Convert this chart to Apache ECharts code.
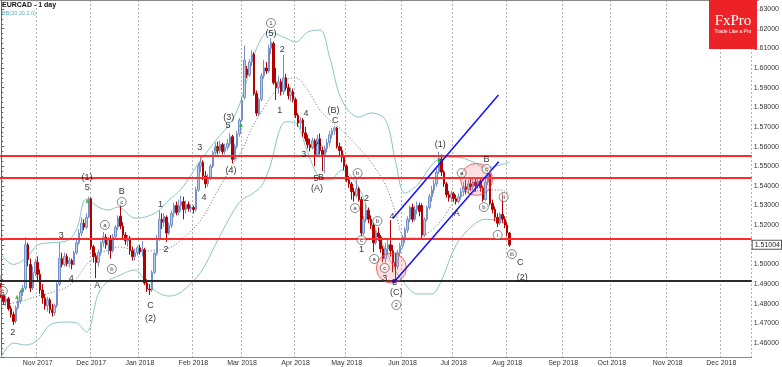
<!DOCTYPE html>
<html><head><meta charset="utf-8">
<script src="https://cdn.jsdelivr.net/npm/echarts/dist/echarts.min.js"></script>
<style>html,body{margin:0;padding:0;background:#fff;}#c{width:782px;height:367px;}</style>
</head><body><div id="c"></div>
<script>
// ---------------- DATA ----------------
const startDate = [2017, 9, 11];            // first bar: 11 Oct 2017
const holidays = ['2017-12-25', '2018-01-01'];
const slotCount = 309;                        // bars incl. empty future area
const monthNames = ['Jan','Feb','Mar','Apr','May','Jun','Jul','Aug','Sep','Oct','Nov','Dec'];

// daily candles [open, close, low, high]
const ohlc = [
[1.4880,1.4845,1.4830,1.4905],[1.4845,1.4810,1.4795,1.4860],[1.4810,1.4825,1.4790,1.4840],[1.4825,1.4775,1.4765,1.4835],
[1.4775,1.4745,1.4730,1.4790],[1.4745,1.4710,1.4692,1.4760],[1.4712,1.4780,1.4700,1.4790],[1.4780,1.4815,1.4770,1.4830],
[1.4815,1.4860,1.4800,1.4870],[1.4860,1.4880,1.4840,1.4895],[1.4880,1.5100,1.4870,1.5140],[1.5100,1.5025,1.4990,1.5110],
[1.5000,1.4880,1.4860,1.5030],[1.4880,1.4960,1.4870,1.4990],[1.4960,1.5010,1.4940,1.5030],[1.5010,1.4950,1.4920,1.5040],
[1.4950,1.4870,1.4850,1.4975],[1.4870,1.4830,1.4800,1.4900],[1.4830,1.4790,1.4770,1.4850],[1.4790,1.4820,1.4760,1.4835],
[1.4820,1.4770,1.4750,1.4830],[1.4770,1.4755,1.4735,1.4800],[1.4755,1.4790,1.4740,1.4800],[1.4790,1.4900,1.4780,1.4910],
[1.4900,1.5030,1.4890,1.5110],[1.5030,1.5000,1.4985,1.5060],[1.5000,1.5040,1.4990,1.5060],[1.5040,1.5005,1.4990,1.5055],
[1.5005,1.5020,1.4985,1.5035],[1.5020,1.5000,1.4975,1.5030],[1.5000,1.5060,1.4995,1.5070],[1.5060,1.5110,1.5050,1.5125],
[1.5110,1.5160,1.5100,1.5180],[1.5160,1.5210,1.5145,1.5240],[1.5210,1.5190,1.5175,1.5230],[1.5190,1.5240,1.5180,1.5260],
[1.5240,1.5335,1.5235,1.5345],[1.5335,1.5090,1.5075,1.5340],[1.5090,1.5040,1.5010,1.5100],[1.5040,1.5010,1.4930,1.5060],
[1.5010,1.5060,1.4990,1.5075],[1.5060,1.5110,1.5045,1.5120],[1.5110,1.5140,1.5090,1.5165],[1.5140,1.5100,1.5080,1.5155],
[1.5100,1.5125,1.5050,1.5140],[1.5125,1.5070,1.5030,1.5150],[1.5070,1.5140,1.5060,1.5155],[1.5140,1.5190,1.5125,1.5200],
[1.5190,1.5235,1.5175,1.5250],[1.5245,1.5195,1.5180,1.5300],[1.5195,1.5150,1.5130,1.5215],[1.5150,1.5120,1.5100,1.5165],
[1.5120,1.5135,1.5090,1.5150],[1.5135,1.5070,1.5050,1.5145],[1.5070,1.5040,1.5020,1.5090],[1.5040,1.5060,1.5020,1.5080],
[1.5060,1.5085,1.5045,1.5095],[1.5085,1.5065,1.5050,1.5100],[1.5065,1.5075,1.5040,1.5120],[1.5075,1.4905,1.4895,1.5085],
[1.4905,1.4875,1.4860,1.4925],[1.4875,1.4870,1.4845,1.4900],[1.4870,1.4960,1.4860,1.4970],[1.4960,1.5055,1.4950,1.5065],
[1.5055,1.5130,1.5045,1.5150],[1.5130,1.5230,1.5120,1.5275],[1.5230,1.5215,1.5180,1.5260],[1.5215,1.5245,1.5190,1.5260],
[1.5240,1.5160,1.5115,1.5250],[1.5160,1.5200,1.5150,1.5215],[1.5200,1.5260,1.5185,1.5275],[1.5260,1.5300,1.5240,1.5315],
[1.5300,1.5265,1.5250,1.5320],[1.5265,1.5300,1.5250,1.5330],[1.5300,1.5320,1.5270,1.5350],[1.5320,1.5280,1.5230,1.5345],
[1.5280,1.5305,1.5260,1.5325],[1.5305,1.5285,1.5270,1.5320],[1.5285,1.5290,1.5265,1.5305],[1.5290,1.5280,1.5260,1.5300],
[1.5280,1.5380,1.5270,1.5395],[1.5380,1.5500,1.5370,1.5515],[1.5500,1.5520,1.5470,1.5557],[1.5520,1.5450,1.5430,1.5530],
[1.5450,1.5410,1.5388,1.5475],[1.5410,1.5445,1.5395,1.5460],[1.5445,1.5500,1.5430,1.5510],[1.5500,1.5570,1.5490,1.5580],
[1.5570,1.5600,1.5550,1.5620],[1.5600,1.5580,1.5560,1.5625],[1.5580,1.5610,1.5565,1.5630],[1.5610,1.5575,1.5560,1.5620],
[1.5575,1.5595,1.5560,1.5615],[1.5595,1.5615,1.5580,1.5640],[1.5615,1.5650,1.5600,1.5667],[1.5650,1.5535,1.5515,1.5660],
[1.5535,1.5600,1.5530,1.5615],[1.5600,1.5665,1.5590,1.5680],[1.5665,1.5735,1.5650,1.5745],[1.5735,1.5835,1.5725,1.5850],
[1.5850,1.6040,1.5840,1.6115],[1.5995,1.5965,1.5950,1.6010],[1.5965,1.6030,1.5955,1.6045],[1.6030,1.6070,1.6010,1.6090],
[1.6070,1.5870,1.5860,1.6080],[1.5870,1.5770,1.5755,1.5885],[1.5765,1.5840,1.5755,1.5850],[1.5840,1.5960,1.5830,1.5975],
[1.5960,1.6000,1.5945,1.6040],[1.6000,1.5985,1.5970,1.6030],[1.5985,1.6100,1.5975,1.6120],[1.6100,1.6130,1.6070,1.6151],
[1.6125,1.5925,1.5915,1.6135],[1.5925,1.5900,1.5837,1.6000],[1.5900,1.5930,1.5870,1.5960],[1.5930,1.5880,1.5860,1.5945],
[1.5880,1.5950,1.5865,1.6066],[1.5950,1.5900,1.5885,1.5970],[1.5900,1.5860,1.5840,1.5920],[1.5860,1.5880,1.5830,1.5900],
[1.5880,1.5840,1.5825,1.5895],[1.5840,1.5760,1.5745,1.5850],[1.5760,1.5720,1.5700,1.5770],[1.5720,1.5735,1.5690,1.5750],
[1.5735,1.5670,1.5650,1.5745],[1.5670,1.5640,1.5625,1.5700],[1.5640,1.5610,1.5590,1.5660],[1.5610,1.5595,1.5575,1.5640],
[1.5595,1.5630,1.5585,1.5645],[1.5630,1.5560,1.5500,1.5640],[1.5560,1.5640,1.5550,1.5660],[1.5640,1.5580,1.5560,1.5667],
[1.5580,1.5560,1.5475,1.5600],[1.5560,1.5590,1.5464,1.5605],[1.5590,1.5620,1.5570,1.5640],[1.5620,1.5660,1.5600,1.5680],
[1.5660,1.5680,1.5640,1.5695],[1.5680,1.5695,1.5660,1.5705],[1.5695,1.5600,1.5590,1.5700],[1.5600,1.5580,1.5555,1.5620],
[1.5580,1.5545,1.5520,1.5600],[1.5545,1.5500,1.5480,1.5560],[1.5500,1.5430,1.5420,1.5510],[1.5430,1.5410,1.5390,1.5450],
[1.5410,1.5370,1.5330,1.5420],[1.5370,1.5350,1.5320,1.5390],[1.5350,1.5385,1.5340,1.5440],[1.5385,1.5330,1.5320,1.5395],
[1.5330,1.5160,1.5141,1.5345],[1.5160,1.5230,1.5150,1.5245],[1.5230,1.5275,1.5215,1.5311],[1.5275,1.5230,1.5210,1.5290],
[1.5230,1.5200,1.5180,1.5250],[1.5200,1.5110,1.5063,1.5210],[1.5110,1.5160,1.5100,1.5175],[1.5160,1.5140,1.5120,1.5190],
[1.5140,1.5080,1.5060,1.5150],[1.5080,1.5030,1.5012,1.5095],[1.5030,1.5080,1.5010,1.5110],[1.5080,1.5100,1.5050,1.5130],
[1.5100,1.5070,1.5040,1.5226],[1.5070,1.5010,1.4960,1.5100],[1.5010,1.4990,1.4915,1.5060],[1.4990,1.5060,1.4975,1.5075],
[1.5060,1.5095,1.5040,1.5110],[1.5095,1.5130,1.5080,1.5150],[1.5130,1.5175,1.5110,1.5190],[1.5175,1.5230,1.5160,1.5245],
[1.5230,1.5290,1.5215,1.5300],[1.5290,1.5230,1.5215,1.5310],[1.5230,1.5280,1.5220,1.5300],[1.5280,1.5300,1.5255,1.5320],
[1.5300,1.5270,1.5245,1.5315],[1.5300,1.5150,1.5135,1.5310],[1.5150,1.5230,1.5140,1.5240],[1.5230,1.5290,1.5220,1.5300],
[1.5290,1.5345,1.5280,1.5360],[1.5345,1.5380,1.5320,1.5400],[1.5380,1.5410,1.5360,1.5430],[1.5410,1.5470,1.5395,1.5490],
[1.5470,1.5535,1.5460,1.5574],[1.5535,1.5470,1.5450,1.5560],[1.5470,1.5410,1.5395,1.5480],[1.5410,1.5355,1.5340,1.5420],
[1.5355,1.5340,1.5320,1.5375],[1.5340,1.5360,1.5319,1.5375],[1.5360,1.5335,1.5320,1.5370],[1.5335,1.5320,1.5305,1.5355],
[1.5320,1.5345,1.5310,1.5360],[1.5345,1.5370,1.5330,1.5390],[1.5370,1.5395,1.5350,1.5420],[1.5395,1.5380,1.5360,1.5430],
[1.5380,1.5410,1.5365,1.5430],[1.5410,1.5395,1.5375,1.5440],[1.5395,1.5420,1.5380,1.5440],[1.5420,1.5400,1.5370,1.5435],
[1.5400,1.5425,1.5385,1.5445],[1.5425,1.5390,1.5370,1.5440],[1.5390,1.5330,1.5320,1.5400],[1.5330,1.5420,1.5325,1.5435],
[1.5420,1.5460,1.5405,1.5481],[1.5460,1.5310,1.5300,1.5465],[1.5310,1.5280,1.5260,1.5330],[1.5280,1.5240,1.5220,1.5295],
[1.5240,1.5210,1.5190,1.5260],[1.5210,1.5255,1.5200,1.5265],[1.5255,1.5230,1.5210,1.5362],[1.5230,1.5200,1.5185,1.5245],
[1.5200,1.5160,1.5145,1.5215],[1.5160,1.5100,1.5090,1.5165]
];

// Bollinger band (20, 2.0) readings at sample bars
const bbIdx   = [0,5,10,15,20,27,31,35,40,44,48,55,59,64,69,74,82,88,95,99,103,107,110,117,121,126,131,135,140,147,152,158,162,166,171,177,181,187,194,199,205,209];
const bbUpper = [1.5050,1.5000,1.5030,1.5099,1.5110,1.5120,1.5180,1.5333,1.5292,1.5277,1.5292,1.5236,1.5241,1.5267,1.5328,1.5384,1.5531,1.5628,1.5735,1.5852,1.6030,1.6152,1.6183,1.6152,1.6132,1.6183,1.6193,1.6056,1.5837,1.5750,1.5771,1.5735,1.5531,1.5363,1.5404,1.5506,1.5542,1.5547,1.5521,1.5491,1.5506,1.5521];
const bbMid   = [1.4793,1.4804,1.4819,1.4839,1.4854,1.4885,1.4931,1.4997,1.5053,1.5073,1.5089,1.5073,1.5068,1.5073,1.5084,1.5124,1.5226,1.5353,1.5506,1.5582,1.5694,1.5776,1.5837,1.5939,1.5949,1.5888,1.5786,1.5735,1.5684,1.5593,1.5521,1.5404,1.5267,1.5135,1.5135,1.5175,1.5226,1.5328,1.5369,1.5379,1.5379,1.5363];
const bbLower = [1.4529,1.4600,1.4590,1.4615,1.4692,1.4707,1.4702,1.4656,1.4854,1.4916,1.4941,1.4972,1.4920,1.4860,1.4839,1.4860,1.4960,1.5100,1.5262,1.5330,1.5358,1.5400,1.5480,1.5726,1.5720,1.5570,1.5440,1.5430,1.5480,1.5390,1.5230,1.5073,1.4970,1.4900,1.4850,1.4850,1.4920,1.5100,1.5200,1.5230,1.5220,1.5190];

// horizontal levels
const redLevels = [1.5552, 1.5441, 1.5133];
const blackLevel = 1.4917;
const lastPrice = 1.51004;

// channel lines [barIndex, price]
const channelUpper = [[161.05, 1.5235], [204.4, 1.5862]];
const channelLower = [[161.05, 1.4904], [204.5, 1.5523]];

// highlight circles [barIndex, price, size]
const circles = [[160.4, 1.4982, 30], [195.4, 1.5433, 32]];

// green fractal arrows [barIndex, price]
const arrows = [[6.5, 1.4836], [8.5, 1.4870], [35.4, 1.5324], [88.4, 1.5591], [98.6, 1.5710], [180.0, 1.5535]];

// wave labels (plain) [barIndex, price, text]
const waveLabels = [
 [-0.6,1.4926,'1'],[4.72,1.4656,'2'],[24.69,1.5145,'3'],[28.76,1.4931,'4'],[35.4,1.5394,'5'],[35.28,1.5445,'(1)'],
 [39.48,1.4895,'A'],[49.54,1.5369,'B'],[61.36,1.4789,'C'],[61.36,1.4727,'(2)'],
 [65.43,1.5303,'1'],[67.75,1.5074,'2'],[81.61,1.5593,'3'],[83.36,1.5343,'4'],[93.26,1.5705,'5'],[93.54,1.5750,'(3)'],[94.48,1.5476,'(4)'],
 [110.86,1.6173,'(5)'],[115.55,1.6096,'2'],[114.45,1.5786,'1'],[125.32,1.5766,'4'],[124.39,1.5562,'3'],[130.5,1.5618,'A'],
 [129.4,1.5435,'5'],[131.44,1.5445,'B'],[129.81,1.5384,'(A)'],[136.61,1.5781,'(B)'],[137.26,1.5735,'C'],
 [150.18,1.5338,'2'],[148.14,1.5074,'1'],[157.63,1.4931,'3'],[160.65,1.5242,'4'],[161.71,1.4906,'5'],[162.4,1.4855,'(C)'],
 [180.45,1.5608,'(1)'],[187.25,1.5257,'A'],[199.48,1.5532,'B'],[213.33,1.5012,'C'],[214.14,1.4936,'(2)']
];
// wave labels (circled) [barIndex, price, text]
const circledLabels = [
 [0.65,1.4865,'c'],[42.61,1.5201,'a'],[45.47,1.4977,'b'],[49.54,1.5318,'c'],[110.86,1.6229,'1'],
 [146.51,1.5465,'b'],[145.41,1.5287,'a'],[148.14,1.5124,'c'],[154.66,1.5221,'b'],[153.32,1.5028,'a'],[157.63,1.4982,'c'],
 [162.4,1.4794,'2'],[189.29,1.5465,'a'],[199.48,1.5486,'c'],[198.38,1.5292,'b'],[204.08,1.5150,'i'],[206.53,1.5343,'ii'],[209.95,1.5053,'iii']
];

// ---------------- CATEGORIES ----------------
const cats = [];
const monthStart = [];
{
  let d = new Date(Date.UTC(startDate[0], startDate[1], startDate[2]));
  let prevMonth = null;
  while (cats.length < slotCount) {
    const wd = d.getUTCDay();
    const s = d.toISOString().slice(0, 10);
    if (wd !== 0 && wd !== 6 && holidays.indexOf(s) < 0) {
      const m = d.getUTCMonth();
      monthStart.push(prevMonth !== null && m !== prevMonth);
      prevMonth = m;
      cats.push(monthNames[m] + ' ' + d.getUTCFullYear());
    }
    d.setUTCDate(d.getUTCDate() + 1);
  }
}

// ---------------- CHART ----------------
const FONT = 'Liberation Sans, Arial, sans-serif';
const chart = echarts.init(document.getElementById('c'), null, {renderer: 'canvas'});
const bbLine = (vals, color, type) => ({
  type: 'line', xAxisIndex: 1, yAxisIndex: 0, symbol: 'none', smooth: 0.35, silent: true, z: 3,
  data: bbIdx.map((ix, k) => [ix, vals[k]]),
  lineStyle: {color: color, width: 1, type: type}
});

const option = {
  animation: false,
  backgroundColor: '#ffffff',
  grid: {left: 0, right: 23, top: 0, bottom: 10, containLabel: false},
  xAxis: [{
    type: 'category', data: cats, boundaryGap: true,
    axisLine: {show: true, lineStyle: {color: '#8a8a8a', width: 1}},
    axisTick: {show: false},
    axisLabel: {interval: (i) => monthStart[i], fontSize: 7, color: '#333', margin: 3, fontFamily: FONT},
    splitLine: {show: true, interval: (i) => monthStart[i], lineStyle: {color: '#b4b4b4', type: [2, 2], width: 1}}
  }, {
    type: 'value', min: -0.5, max: slotCount - 0.5, show: false
  }],
  yAxis: [{
    type: 'value', position: 'right', min: 1.4529, max: 1.6346, splitNumber: 18,
    minInterval: 0.01, maxInterval: 0.01,
    axisLine: {show: true, lineStyle: {color: '#666', width: 1}},
    axisTick: {show: true, length: 3, lineStyle: {color: '#666'}},
    minorTick: {show: true, splitNumber: 4, length: 2, lineStyle: {color: '#666'}},
    splitLine: {show: false},
    axisLabel: {
      fontSize: 7, color: '#333', margin: 2, fontFamily: FONT,
      formatter: (v) => (Math.abs(v * 100 - Math.round(v * 100)) < 1e-6 && Math.abs(v - 1.51) > 1e-6 ? v.toFixed(5) : '')
    }
  }],
  graphic: [
    {type: 'line', shape: {x1: 0, y1: 0.5, x2: 759, y2: 0.5}, style: {stroke: '#8a8a8a', lineWidth: 1}, z: 10},
    {type: 'text', left: 2, top: 2, style: {text: 'EURCAD - 1 day', fill: '#111', font: 'bold 7px ' + FONT}, z: 10},
    {type: 'text', left: 2, top: 10, style: {text: 'BB(20,20,2.0)', fill: '#5ca9b8', font: '5.5px ' + FONT}, z: 10},
    {type: 'rect', shape: {x: 709, y: 0, width: 48, height: 49}, style: {fill: '#ec2227'}, z: 10},
    {type: 'text', x: 733, y: 21, style: {text: 'FxPro', fill: '#fff', font: '15px Liberation Serif, DejaVu Serif, serif', textAlign: 'center', textVerticalAlign: 'middle'}, z: 11},
    {type: 'text', x: 733, y: 32, style: {text: 'Trade Like a Pro', fill: '#fff', font: '5px ' + FONT, textAlign: 'center', textVerticalAlign: 'middle'}, z: 11}
  ],
  series: [
    bbLine(bbUpper, '#8cc4c4', 'solid'),
    bbLine(bbLower, '#8cc4c4', 'solid'),
    bbLine(bbMid, '#6a6a6a', [1, 2]),
    {
      type: 'candlestick', xAxisIndex: 0, yAxisIndex: 0, data: ohlc, barWidth: 2, z: 4,
      itemStyle: {color: '#b9cbeb', color0: '#b50000', borderColor: '#7490c6', borderColor0: '#b50000', borderWidth: 1}
    },
    {
      type: 'line', xAxisIndex: 1, yAxisIndex: 0, data: [], z: 5, silent: true,
      markLine: {
        symbol: 'none', silent: true, animation: false, precision: 6,
        data: redLevels.map(v => ({yAxis: v, lineStyle: {color: '#ff2b2b', width: 2, type: 'solid'}, label: {show: false}}))
          .concat([{yAxis: blackLevel, lineStyle: {color: '#2b2b2b', width: 2, type: 'solid'}, label: {show: false}}])
          .concat([{yAxis: lastPrice, lineStyle: {color: 'rgba(0,0,0,0)', width: 0}, label: {
            show: true, position: 'end', distance: 1, formatter: lastPrice.toFixed(5), fontSize: 7, color: '#222', fontFamily: FONT,
            backgroundColor: '#fff', borderColor: '#555', borderWidth: 1, padding: [1, 1, 0, 2]}}])
      }
    },
    {
      type: 'scatter', xAxisIndex: 1, yAxisIndex: 0, z: 6, silent: true,
      data: circles.map(c => ({value: [c[0], c[1]], symbolSize: c[2]})),
      itemStyle: {color: 'rgba(255,110,110,0.28)', borderColor: '#ff4040', borderWidth: 1}
    },
    {type: 'line', xAxisIndex: 1, yAxisIndex: 0, data: channelUpper, symbol: 'none', z: 7, silent: true, lineStyle: {color: '#1010ff', width: 1.5}},
    {type: 'line', xAxisIndex: 1, yAxisIndex: 0, data: channelLower, symbol: 'none', z: 7, silent: true, lineStyle: {color: '#1010ff', width: 1.5}},
    {
      type: 'scatter', xAxisIndex: 1, yAxisIndex: 0, z: 8, silent: true, symbol: 'triangle', symbolSize: 4,
      data: arrows, itemStyle: {color: '#22aa22'}
    },
    {
      type: 'scatter', xAxisIndex: 1, yAxisIndex: 0, z: 9, silent: true, clip: false, symbolSize: 1,
      data: waveLabels, itemStyle: {color: 'rgba(0,0,0,0)'},
      label: {show: true, position: 'inside', formatter: p => p.value[2], fontSize: 9, color: '#000', fontFamily: FONT}
    },
    {
      type: 'scatter', xAxisIndex: 1, yAxisIndex: 0, z: 9, silent: true, clip: false, symbol: 'circle', symbolSize: 9,
      data: circledLabels, itemStyle: {color: 'rgba(255,255,255,0.6)', borderColor: '#444', borderWidth: 0.8},
      label: {show: true, position: 'inside', formatter: p => p.value[2], fontSize: 6, color: '#000', fontFamily: FONT}
    }
  ]
};
chart.setOption(option);
</script>
</body></html>
